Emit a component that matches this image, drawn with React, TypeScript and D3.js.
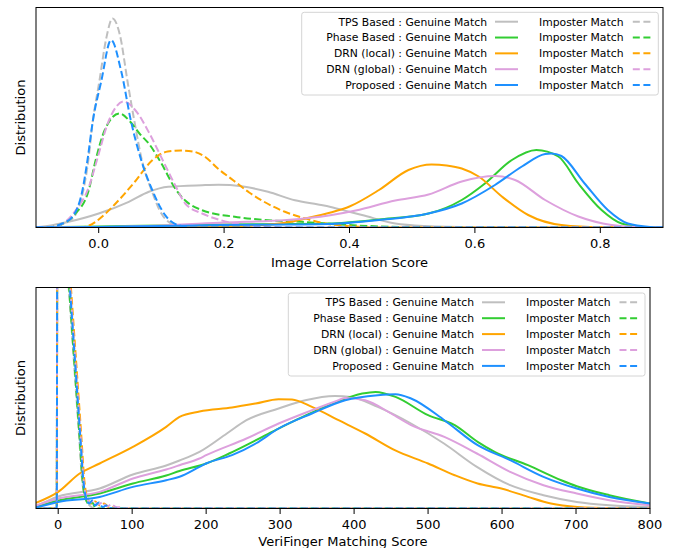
import React from "react";
import * as d3 from "d3";

type P = [number, number];

const methods = ["TPS Based", "Phase Based", "DRN (local)", "DRN (global)", "Proposed"];
const colors = ["#bfbfbf", "#32cd32", "#ffa500", "#dda0dd", "#1e90ff"];
const corrTicks = [0, 0.2, 0.4, 0.6, 0.8];
const vfTicks = [0, 100, 200, 300, 400, 500, 600, 700, 800];
const corrDomain: P = [-0.1, 0.9];
const vfDomain: P = [-30, 800];

// ---- Image correlation score: genuine match densities ----
const corrTpsGen: P[] = [[-0.1,0.3],[-0.074,2.3],[-0.048,5.7],[0,14],[0.048,25.7],[0.08,35.7],[0.111,40.7],[0.165,42.3],[0.191,42.7],[0.228,41.3],[0.27,35.7],[0.313,27.3],[0.35,23],[0.37,20.5],[0.398,16],[0.42,12.5],[0.473,4],[0.52,1.5],[0.6,0.3],[0.7,0],[0.9,0]];
const corrPhaseGen: P[] = [[-0.1,0],[0,1],[0.1,2],[0.2,3],[0.3,3.5],[0.367,4],[0.447,8],[0.526,14],[0.579,27.5],[0.616,44],[0.659,67.5],[0.698,77.5],[0.733,71],[0.765,44],[0.802,17.5],[0.834,4],[0.87,0.5],[0.9,0]];
const corrDrnLocalGen: P[] = [[-0.1,0],[0.1,0.3],[0.2,1],[0.25,2],[0.3,5],[0.33,9],[0.37,15],[0.4,21],[0.447,37.5],[0.494,57.5],[0.531,63],[0.555,62],[0.579,59],[0.606,51],[0.643,31],[0.685,12.5],[0.738,2.5],[0.8,0.3],[0.9,0]];
const corrDrnGlobalGen: P[] = [[-0.1,0],[0,0.5],[0.1,2],[0.2,5],[0.3,7.5],[0.367,12],[0.41,17],[0.473,27],[0.526,33],[0.579,46],[0.632,51.5],[0.664,47.5],[0.712,27.5],[0.765,11],[0.818,2.5],[0.86,0.5],[0.9,0]];
const corrProposedGen: P[] = [[-0.1,0],[0,0.5],[0.1,1.5],[0.2,2.5],[0.3,3],[0.367,3.5],[0.447,7.5],[0.526,14],[0.579,24],[0.632,42.5],[0.675,61],[0.712,73.5],[0.722,74],[0.738,71.5],[0.775,44],[0.812,17.5],[0.844,4],[0.88,0.5],[0.9,0]];

// ---- Image correlation score: imposter match densities ----
const corrTpsImp: P[] = [[-0.1,0],[-0.075,0.5],[-0.06,3],[-0.04,10],[-0.026,33],[-0.017,65],[-0.0095,106],[0.001,146],[0.012,189],[0.022,209],[0.034,192],[0.046,146],[0.057,106],[0.069,67],[0.085,36],[0.1,14],[0.122,2.3],[0.15,0],[0.9,0]];
const corrPhaseImp: P[] = [[-0.1,0],[-0.075,0.5],[-0.058,3.5],[-0.037,14],[-0.016,37],[-0.005,67],[0.01,98],[0.033,114],[0.05,106],[0.065,94],[0.081,83],[0.1,64],[0.123,38],[0.138,27],[0.165,17.3],[0.217,10.7],[0.27,7.3],[0.324,5.7],[0.377,3.3],[0.45,1],[0.55,0],[0.9,0]];
const corrDrnLocalImp: P[] = [[-0.1,0],[-0.03,0],[-0.015,2],[0,8],[0.027,24],[0.058,46],[0.085,67],[0.11,76],[0.131,77],[0.15,76],[0.171,70],[0.19,59],[0.215,47],[0.24,35],[0.263,26],[0.297,15.7],[0.324,10],[0.361,4],[0.4,1.3],[0.45,0],[0.9,0]];
const corrDrnGlobalImp: P[] = [[-0.1,0],[-0.075,0.5],[-0.058,3.5],[-0.037,17],[-0.016,40],[-0.003,67],[0.015,105],[0.04,126],[0.06,116],[0.081,94],[0.1,70],[0.123,41],[0.138,24],[0.165,14],[0.191,8],[0.217,4],[0.24,1.7],[0.28,0.3],[0.32,0],[0.9,0]];
const corrProposedImp: P[] = [[-0.1,0],[-0.075,0.5],[-0.058,4],[-0.042,10.7],[-0.026,37],[-0.018,67],[-0.0095,106],[0.004,146],[0.0197,187.5],[0.036,156],[0.0516,106],[0.068,67],[0.085,38],[0.106,12.3],[0.127,2.3],[0.15,0],[0.9,0]];

// ---- VeriFinger matching score: genuine match densities ----
const vfTpsGen: P[] = [[-30,2],[0,12],[56,20],[101,34],[146,43],[164,48],[191,56.6],[228,75],[254.5,88.3],[298,100],[334,108.3],[374,112.6],[396,111.6],[432,101.6],[477,85],[521.5,65],[566,41.6],[611,23.3],[656,13.3],[701,6.6],[745,3.3],[800,1.6]];
const vfPhaseGen: P[] = [[-30,1.5],[0,8],[56,15],[101,25],[146,33],[164,37.5],[200,45],[231,55],[276,71.6],[321,88.3],[366,103.3],[411,115],[429,116.6],[456,111.6],[500,93.3],[536,83.3],[567,66.6],[590,56.6],[635,43.3],[680,28.3],[701,22.3],[745,13.3],[800,5]];
const vfDrnLocalGen: P[] = [[-30,5.6],[0,16.6],[29,35],[56,45],[101,61.6],[146,81.6],[164,91.6],[191,97],[235,101],[267,105],[298,109.3],[316,109],[343,101.6],[379,88.3],[415,75],[455,58.3],[500,45],[536,33.3],[567,25],[599,20],[635,11.6],[666,5],[702,1.6],[750,0.3],[800,0]];
const vfDrnGlobalGen: P[] = [[-30,3],[0,10],[56,16.6],[101,30],[146,39],[164,43.3],[191,50],[200,53.3],[254.5,70],[298,85],[343,98.3],[379,108.3],[388,110.6],[415,108.3],[450,95],[477,83.3],[522,71.6],[566,55],[611,36.6],[656,23.3],[701,15],[745,8.3],[800,3.3]];
const vfProposedGen: P[] = [[-30,1],[0,6.6],[56,11.6],[101,21.6],[146,28.3],[164,31.7],[191,41.6],[200,45],[235,53.3],[267,65],[298,80],[343,95],[388,108.3],[432,113.3],[456,114.3],[477,110],[522,88.3],[567,63.3],[611,48.3],[656,31.7],[701,20],[745,11.6],[800,5]];

// ---- VeriFinger matching score: imposter match densities (peaks run far above the axes) ----
const vfTpsImp: P[] = [[-30,0],[-2,0],[-1,360],[4,420],[10,260],[14.2,221],[18.5,176],[23.5,123],[28.5,70],[32,31],[34.5,16],[37,9],[40,5],[44,2],[48,0],[800,0]];
const vfPhaseImp: P[] = [[-27.5,0],[-2,0],[-1,360],[4.5,420],[10.5,260],[14.7,221],[19,176],[24,123],[29,70],[32.6,31],[35,16],[38,8],[42,4],[46,6],[50,1],[55,0],[800,0]];
const vfDrnLocalImp: P[] = [[-25,0],[-2,0],[-1,360],[7,420],[13,260],[17.2,221],[21.5,176],[26.5,123],[31.5,70],[35,31],[37.5,16],[40,10],[44,5],[50,7],[56,3],[62,5],[68,1.5],[74,1],[78,0],[800,0]];
const vfDrnGlobalImp: P[] = [[-22.5,0],[-2,0],[-1,360],[6,420],[12,260],[16.2,221],[20.5,176],[25.5,123],[30.5,70],[34,31],[36.5,16],[39,10],[43,6],[48,8],[54,4],[60,6],[66,2],[72,4],[78,1.5],[85,1],[90,0],[800,0]];
const vfProposedImp: P[] = [[-20,0],[-2,0],[-1,360],[5.5,420],[11.5,260],[15.7,221],[20,176],[25,123],[30,70],[33.6,31],[36,16],[38,10],[42,5],[46,8],[50,3],[55,6],[60,1.5],[65,3],[70,0.5],[75,0],[800,0]];

const corrGen = [corrTpsGen, corrPhaseGen, corrDrnLocalGen, corrDrnGlobalGen, corrProposedGen];
const corrImp = [corrTpsImp, corrPhaseImp, corrDrnLocalImp, corrDrnGlobalImp, corrProposedImp];
const vfGen = [vfTpsGen, vfPhaseGen, vfDrnLocalGen, vfDrnGlobalGen, vfProposedGen];
const vfImp = [vfTpsImp, vfPhaseImp, vfDrnLocalImp, vfDrnGlobalImp, vfProposedImp];

const FONT = "DejaVu Sans, sans-serif";
const DASH = "7.4,3.2";
const LEG_DASH = "7,3.6";
const LW = 2;

type Box = { l: number; r: number; t: number; b: number };

function Panel(props: {
  id: string; box: Box; xDomain: P; yMax: number; ticks: number[]; fmt: (v: number) => string;
  gen: P[][]; imp: P[][]; xLabel: string; labelDy: number;
  legend: { x0: number; x1: number; y0: number; y1: number; row0: number; dy: number; t1: number; h1: number; t2: number; h2: number };
}) {
  const { id, box, xDomain, yMax, ticks, fmt, gen, imp, xLabel, labelDy, legend } = props;
  const x = d3.scaleLinear().domain(xDomain).range([box.l, box.r]);
  const y = d3.scaleLinear().domain([0, yMax]).range([box.b, box.t]);
  const line = d3.line<P>().x((d) => x(d[0])).y((d) => y(d[1])).curve(d3.curveMonotoneX);
  const hl = 23;
  return (
    <g>
      <defs>
        <clipPath id={id}>
          <rect x={box.l} y={box.t} width={box.r - box.l} height={box.b - box.t} />
        </clipPath>
      </defs>
      <g clipPath={`url(#${id})`}>
        {methods.map((m, i) => (
          <g key={m}>
            <path d={line(gen[i]) || ""} fill="none" stroke={colors[i]} strokeWidth={LW} />
            <path d={line(imp[i]) || ""} fill="none" stroke={colors[i]} strokeWidth={LW} strokeDasharray={DASH} />
          </g>
        ))}
      </g>
      <rect x={box.l} y={box.t} width={box.r - box.l} height={box.b - box.t} fill="none" stroke="#000" strokeWidth={1} />
      {ticks.map((t) => (
        <g key={t}>
          <line x1={x(t)} x2={x(t)} y1={box.b} y2={box.b + 5.5} stroke="#000" strokeWidth={1} />
          <text x={x(t)} y={box.b + 20.8} textAnchor="middle" fontSize={13} fontFamily={FONT} fill="#000">{fmt(t)}</text>
        </g>
      ))}
      <text x={(box.l + box.r) / 2} y={box.b + labelDy} textAnchor="middle" fontSize={13} fontFamily={FONT} fill="#000">{xLabel}</text>
      <text transform={`translate(24.5,${(box.t + box.b) / 2}) rotate(-90)`} textAnchor="middle" fontSize={13} fontFamily={FONT} fill="#000">Distribution</text>
      <rect x={legend.x0} y={legend.y0} width={legend.x1 - legend.x0} height={legend.y1 - legend.y0} rx={2.5} fill="#fff" fillOpacity={0.8} stroke="#d4d4d4" strokeWidth={1} />
      {methods.map((m, i) => {
        const ry = legend.row0 + i * legend.dy;
        return (
          <g key={m}>
            <text x={legend.t1} y={ry + 3.8} textAnchor="end" fontSize={10.8} fontFamily={FONT} fill="#000">{`${m} : Genuine Match`}</text>
            <line x1={legend.h1} x2={legend.h1 + hl} y1={ry} y2={ry} stroke={colors[i]} strokeWidth={LW} />
            <text x={legend.t2} y={ry + 3.8} textAnchor="end" fontSize={10.8} fontFamily={FONT} fill="#000">Imposter Match</text>
            <line x1={legend.h2} x2={legend.h2 + 17.6} y1={ry} y2={ry} stroke={colors[i]} strokeWidth={LW} strokeDasharray={LEG_DASH} />
          </g>
        );
      })}
    </g>
  );
}

export default function App() {
  return (
    <svg width={677} height={548} style={{ position: "absolute", left: 0, top: 0, background: "#fff" }}>
      <rect x={0} y={0} width={677} height={548} fill="#fff" />
      <Panel
        id="clipTop"
        box={{ l: 36, r: 663, t: 7.5, b: 227.5 }}
        xDomain={corrDomain}
        yMax={220}
        ticks={corrTicks}
        fmt={(v) => v.toFixed(1)}
        gen={corrGen}
        imp={corrImp}
        xLabel="Image Correlation Score"
        labelDy={39}
        legend={{ x0: 301.7, x1: 658.3, y0: 12.3, y1: 95, row0: 21.7, dy: 15.83, t1: 487, h1: 495, t2: 623.5, h2: 632.8 }}
      />
      <Panel
        id="clipBottom"
        box={{ l: 36, r: 650, t: 287.5, b: 508.5 }}
        xDomain={vfDomain}
        yMax={221}
        ticks={vfTicks}
        fmt={(v) => String(v)}
        gen={vfGen}
        imp={vfImp}
        xLabel="VeriFinger Matching Score"
        labelDy={37.5}
        legend={{ x0: 288.3, x1: 645, y0: 293, y1: 376, row0: 302.3, dy: 15.9, t1: 474, h1: 482, t2: 610.5, h2: 619.5 }}
      />
    </svg>
  );
}
